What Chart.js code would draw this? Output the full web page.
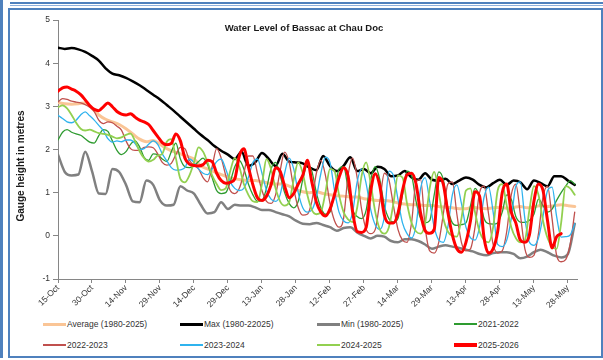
<!DOCTYPE html>
<html>
<head>
<meta charset="utf-8">
<script src="https://cdn.jsdelivr.net/npm/chart.js@4.4.1/dist/chart.umd.min.js"></script>
<style>
  html, body { margin: 0; padding: 0; background: #fff; }
  body { width: 603px; height: 360px; position: relative; overflow: hidden; font-family: "Liberation Sans", Arial, sans-serif; }
  .bar { position: absolute; background: #4f81bd; }
  #box { position: absolute; left: 8px; top: 8px; width: 591px; height: 346px; border: 2px solid #4f81bd; }
  #c { position: absolute; left: 12px; top: 10px; }
  .lg { position: absolute; display: flex; align-items: center; height: 12px; font-size: 8.5px; color: #333; white-space: nowrap; }
  .lg i { display: block; width: 23px; margin-right: 1px; }
</style>
</head>
<body>
<div class="bar" style="left:0;top:0;width:3px;height:358px"></div>
<div class="bar" style="left:10px;top:2px;width:593px;height:2px"></div>
<div class="bar" style="left:10px;top:5px;width:593px;height:1px;background:#8fb0dc"></div>
<div id="box"></div>
<canvas id="c" width="580" height="300"></canvas>
<div id="legend"></div>
<script>
/* ── DATA ── */
const chartTitle = "Water Level of Bassac at Chau Doc";
const yTitle = "Gauge height in metres";
const dayTicks = ["15-Oct", "30-Oct", "14-Nov", "29-Nov", "14-Dec", "29-Dec", "13-Jan", "28-Jan",
  "12-Feb", "27-Feb", "14-Mar", "29-Mar", "13-Apr", "28-Apr", "13-May", "28-May"];
const seriesNames = ["Average (1980-2025)", "Max (1980-22025)", "Min (1980-2025)", "2021-2022",
  "2022-2023", "2023-2024", "2024-2025", "2025-2026"];

// days between samples (day 0 = 15-Oct)
const STATS_STEP = 3;
const YEAR_STEP = 2;

const avgLevel = [
  3.09, 3.06, 3.05, 3.06, 3.08, 2.95, 2.80, 2.70, 2.64, 2.58,
  2.48, 2.36, 2.24, 2.18, 2.21, 2.12, 2.02, 1.95, 1.90, 1.84,
  1.78, 1.62, 1.55, 1.48, 1.42, 1.36, 1.32, 1.30, 1.28, 1.28,
  1.25, 1.22, 1.20, 1.20, 1.15, 1.08, 1.02, 1.00, 1.02, 0.98,
  0.95, 0.93, 0.92, 0.90, 0.90, 0.86, 0.84, 0.82, 0.82, 0.80,
  0.76, 0.74, 0.72, 0.72, 0.70, 0.70, 0.68, 0.66, 0.65, 0.63,
  0.63, 0.66, 0.64, 0.63, 0.65, 0.66, 0.64, 0.66, 0.68, 0.65,
  0.67, 0.70, 0.68, 0.70, 0.72, 0.70, 0.68
];
const maxLevel = [
  4.36, 4.33, 4.35, 4.32, 4.26, 4.17, 4.06, 3.88, 3.76, 3.72,
  3.66, 3.58, 3.49, 3.38, 3.27, 3.16, 3.03, 2.90, 2.76, 2.62,
  2.48, 2.34, 2.22, 2.08, 1.97, 1.88, 1.78, 1.95, 1.62, 1.70,
  1.92, 1.78, 1.62, 1.90, 1.72, 1.70, 1.68, 1.58, 1.52, 1.85,
  1.62, 1.50, 1.62, 1.82, 1.50, 1.55, 1.45, 1.60, 1.55, 1.38,
  1.40, 1.50, 1.35, 1.30, 1.45, 1.30, 1.28, 1.32, 1.20, 1.28,
  1.35, 1.30, 1.18, 1.12, 1.22, 1.30, 1.18, 1.28, 1.24, 1.08,
  1.28, 1.22, 1.15, 1.38, 1.38, 1.28, 1.18
];
const minLevel = [
  1.88, 1.48, 1.40, 1.42, 1.95, 1.50, 0.98, 0.97, 1.55, 1.48,
  1.18, 0.80, 0.78, 1.28, 1.18, 0.82, 0.70, 0.72, 1.15, 1.05,
  0.98, 0.72, 0.52, 0.55, 0.78, 0.62, 0.72, 0.70, 0.70, 0.66,
  0.60, 0.60, 0.55, 0.50, 0.45, 0.35, 0.28, 0.27, 0.30, 0.25,
  0.20, 0.12, 0.18, 0.20, 0.08, 0.00, -0.06, 0.00, -0.02, -0.12,
  -0.15, -0.08, -0.08, -0.12, -0.20, -0.30, -0.25, -0.22, -0.25, -0.28,
  -0.32, -0.36, -0.42, -0.45, -0.40, -0.38, -0.38, -0.42, -0.52, -0.48,
  -0.38, -0.32, -0.38, -0.46, -0.50, -0.42, 0.28
];
const level2122 = [
  2.22, 2.40, 2.46, 2.40, 2.36, 2.33, 2.25, 2.17, 2.15, 2.32,
  2.46, 2.42, 2.20, 1.98, 1.88, 1.95, 2.12, 2.20, 2.06, 1.82,
  1.75, 1.90, 1.88, 1.78, 1.72, 1.95, 2.15, 1.78, 1.60, 1.58,
  1.62, 1.72, 1.80, 1.65, 1.35, 1.05, 0.98, 1.00, 1.25, 1.60,
  1.75, 1.55, 1.20, 0.95, 0.80, 0.82, 1.10, 1.55, 1.70, 1.40,
  1.00, 0.75, 0.65, 0.80, 1.30, 1.65, 1.50, 1.00, 0.65, 0.50,
  0.55, 1.00, 1.55, 1.60, 1.10, 0.60, 0.45, 0.40, 0.60, 1.30,
  1.60, 1.30, 0.70, 0.40, 0.32, 0.40, 0.95, 1.50, 1.40, 0.80,
  0.40, 0.30, 0.35, 0.95, 1.48, 1.30, 0.65, 0.30, 0.24, 0.26,
  0.30, 0.70, 1.10, 0.90, 0.40, 0.28, 0.27, 0.30, 0.55, 0.95,
  0.85, 0.45, 0.32, 0.31, 0.36, 0.50, 0.85, 0.70, 0.55, 0.62,
  0.82, 1.00, 1.15, 1.28, 1.20
];
const level2223 = [
  3.10, 3.18, 3.16, 3.12, 3.10, 3.08, 3.04, 2.98, 2.88, 2.68,
  2.60, 2.64, 2.62, 2.54, 2.45, 2.20, 2.02, 1.98, 1.98, 2.05,
  2.06, 2.04, 1.90, 1.70, 1.64, 1.68, 1.88, 2.05, 2.02, 1.75,
  1.63, 1.55, 1.35, 1.25, 1.60, 2.02, 1.80, 1.40, 1.05, 0.98,
  1.10, 1.45, 1.85, 1.85, 1.45, 1.05, 0.80, 0.75, 0.95, 1.50,
  1.94, 1.70, 1.10, 0.65, 0.48, 0.50, 0.80, 1.45, 1.75, 1.40,
  0.75, 0.35, 0.20, 0.40, 1.40, 1.80, 1.35, 0.60, 0.15, 0.05,
  0.15, 0.80, 1.45, 1.30, 0.70, 0.15, -0.10, -0.15, 0.30, 1.25,
  1.30, 0.20, -0.35, -0.40, -0.15, 0.50, 1.20, 1.25, 0.50, -0.15,
  -0.35, -0.30, 0.20, 1.00, 1.15, 0.50, -0.20, -0.40, -0.35, 0.10,
  0.95, 1.20, 0.50, -0.30, -0.50, -0.45, 0.05, 0.90, 1.15, 0.40,
  -0.45, -0.60, -0.55, -0.20, 0.55
];
const level2324 = [
  2.79, 2.72, 2.64, 2.62, 2.68, 2.80, 2.87, 2.78, 2.68, 2.56,
  2.44, 2.25, 2.17, 2.20, 2.18, 2.22, 2.22, 2.14, 2.00, 2.02,
  2.12, 2.20, 2.12, 1.90, 1.74, 1.58, 1.52, 1.53, 1.58, 1.78,
  1.70, 1.55, 1.45, 1.42, 1.55, 1.72, 1.78, 1.55, 1.25, 1.10,
  1.05, 1.10, 1.35, 1.70, 1.78, 1.45, 1.05, 0.85, 0.80, 0.95,
  1.45, 1.80, 1.55, 1.00, 0.65, 0.55, 0.60, 0.90, 1.45, 1.82,
  1.70, 1.05, 0.55, 0.35, 0.30, 0.55, 1.25, 1.55, 1.20, 0.60,
  0.25, 0.15, 0.45, 1.50, 1.40, 0.85, 0.30, 0.05, -0.05, 0.25,
  1.10, 1.35, 0.80, 0.20, -0.10, -0.15, 0.20, 0.95, 1.18, 0.75,
  0.20, -0.05, -0.10, 0.20, 0.90, 1.13, 0.55, -0.20, -0.25, -0.10,
  0.40, 1.15, 1.25, 0.40, -0.15, -0.22, -0.05, 0.45, 1.05, 1.13,
  0.45, -0.03, -0.02, 0.02, 0.28
];
const level2425 = [
  2.98, 3.02, 2.95, 2.80, 2.62, 2.48, 2.44, 2.46, 2.42, 2.38,
  2.36, 2.34, 2.30, 2.26, 2.28, 2.34, 2.37, 2.20, 1.96, 1.80,
  1.72, 1.76, 1.86, 1.90, 2.18, 2.24, 1.80, 1.32, 1.24, 1.40,
  1.70, 2.05, 1.95, 1.70, 1.40, 1.20, 1.06, 1.10, 1.50, 1.80,
  1.60, 1.20, 0.95, 0.80, 0.78, 1.20, 1.78, 1.55, 1.10, 0.80,
  0.70, 0.78, 1.30, 1.70, 1.45, 0.95, 0.60, 0.50, 0.55, 1.00,
  1.55, 1.50, 0.95, 0.55, 0.38, 0.32, 0.65, 1.40, 1.70, 1.20,
  0.55, 0.15, 0.05, 0.20, 0.75, 1.40, 1.35, 0.75, 0.30, 0.10,
  0.05, 0.30, 1.10, 1.48, 1.00, 0.40, 0.10, 0.00, -0.02, 0.40,
  1.05, 1.10, 0.55, 0.10, -0.10, -0.15, 0.20, 1.05, 1.20, 0.70,
  0.20, -0.05, -0.15, -0.10, 0.60, 1.15, 0.95, 0.35, -0.05, -0.25,
  -0.30, 0.30, 1.15, 1.10, 0.95
];
const level2526 = [
  3.35, 3.43, 3.45, 3.40, 3.35, 3.27, 3.15, 3.02, 2.93, 2.90,
  2.99, 3.08, 2.99, 2.88, 2.82, 2.80, 2.83, 2.75, 2.68, 2.64,
  2.58, 2.44, 2.30, 2.16, 2.11, 2.14, 2.36, 2.20, 1.80, 1.66,
  1.63, 1.62, 1.65, 1.75, 1.72, 1.45, 1.28, 1.22, 1.24, 1.32,
  1.85, 2.02, 1.60, 1.18, 0.88, 0.82, 0.92, 1.18, 1.58, 1.50,
  1.15, 0.88, 0.98, 1.20, 1.40, 1.75, 1.25, 0.78, 0.55, 0.46,
  0.62, 0.95, 1.35, 1.58, 1.38, 0.55, 0.10, 0.08, 0.20, 1.05,
  1.44, 1.15, 0.48, 0.30, 0.30, 0.52, 1.05, 1.42, 1.45, 1.20,
  0.52, 0.12, 0.06, 0.15, 1.35, 1.20, 0.55, 0.02, -0.30, -0.38,
  -0.15, 0.35, 1.02, 0.92, -0.05, -0.40, -0.30, 0.10, 1.00, 1.20,
  0.55, 0.30, -0.10, -0.15, 0.02, 0.80, 1.20, 1.05, 0.35, -0.28,
  -0.02, 0.05
];

/* ── STYLE ── */
const seriesData = [avgLevel, maxLevel, minLevel, level2122, level2223, level2324, level2425, level2526];
const seriesStep = [STATS_STEP, STATS_STEP, STATS_STEP, YEAR_STEP, YEAR_STEP, YEAR_STEP, YEAR_STEP, YEAR_STEP];
const seriesColors = ["#fac596", "#000000", "#808080", "#2e9b30", "#c0504d", "#2fb3ee", "#92d050", "#ff0000"];
const seriesWidths = [3, 2.5, 2.5, 1.3, 1.3, 1.3, 1.8, 3];
const legendWidths = [3, 3, 3, 2, 2, 2, 2, 4];

const toPoints = (vals, step) => vals.map((v, i) => ({ x: i * step, y: v }));

const datasets = seriesNames.map((name, i) => ({
  label: name,
  data: toPoints(seriesData[i], seriesStep[i]),
  borderColor: seriesColors[i],
  borderWidth: seriesWidths[i],
  order: seriesNames.length - i,
  fill: false,
  pointRadius: 0,
}));

// title + axis title drawn inside the plot, like the original
const chartText = {
  id: "chartText",
  afterDraw(chart) {
    const { ctx, chartArea } = chart;
    ctx.save();
    ctx.fillStyle = "#1a1a1a";
    ctx.textAlign = "center";
    ctx.textBaseline = "middle";
    ctx.font = "bold 9.5px 'Liberation Sans', Arial, sans-serif";
    ctx.fillText(chartTitle, chartArea.left + 246, chartArea.top + 8);
    ctx.translate(chartArea.left - 37, chartArea.top + 146);
    ctx.rotate(-Math.PI / 2);
    ctx.font = "bold 10px 'Liberation Sans', Arial, sans-serif";
    ctx.fillText(yTitle, 0, 0);
    ctx.restore();
  },
};

const tickFont = { size: 8.5, family: "'Liberation Sans', Arial, sans-serif" };

new Chart(document.getElementById("c"), {
  type: "line",
  data: { datasets },
  options: {
    responsive: false,
    animation: false,
    layout: { padding: { left: 16, right: 15, top: 10, bottom: 0 } },
    plugins: { legend: { display: false }, tooltip: { enabled: false } },
    elements: { line: { cubicInterpolationMode: "monotone", borderJoinStyle: "round", borderCapStyle: "round" } },
    scales: {
      x: {
        type: "linear",
        min: 0,
        max: 229,
        afterFit: (s) => { s.height = 31; },
        border: { color: "#868686", width: 1 },
        grid: { drawOnChartArea: false, tickLength: 4, color: "#868686" },
        ticks: {
          stepSize: 15,
          includeBounds: false,
          autoSkip: false,
          maxRotation: 45,
          minRotation: 45,
          padding: 0,
          color: "#333",
          font: tickFont,
          callback: (v) => dayTicks[v / 15],
        },
      },
      y: {
        min: -1,
        max: 5,
        afterFit: (s) => { s.width = 30; },
        border: { color: "#868686", width: 1 },
        grid: { drawOnChartArea: false, tickLength: 5, color: "#868686" },
        ticks: { stepSize: 1, padding: 3, color: "#333", font: tickFont },
      },
    },
  },
  plugins: [chartText],
});

/* ── LEGEND ── */
const legendCols = [43, 180, 317, 454];
const legendRows = [318, 339];
document.getElementById("legend").innerHTML = seriesNames
  .map((name, i) => {
    const x = legendCols[i % 4];
    const y = legendRows[Math.floor(i / 4)];
    return `<div class="lg" style="left:${x}px;top:${y}px"><i style="height:${legendWidths[i]}px;background:${seriesColors[i]}"></i>${name}</div>`;
  })
  .join("");
</script>
</body>
</html>
